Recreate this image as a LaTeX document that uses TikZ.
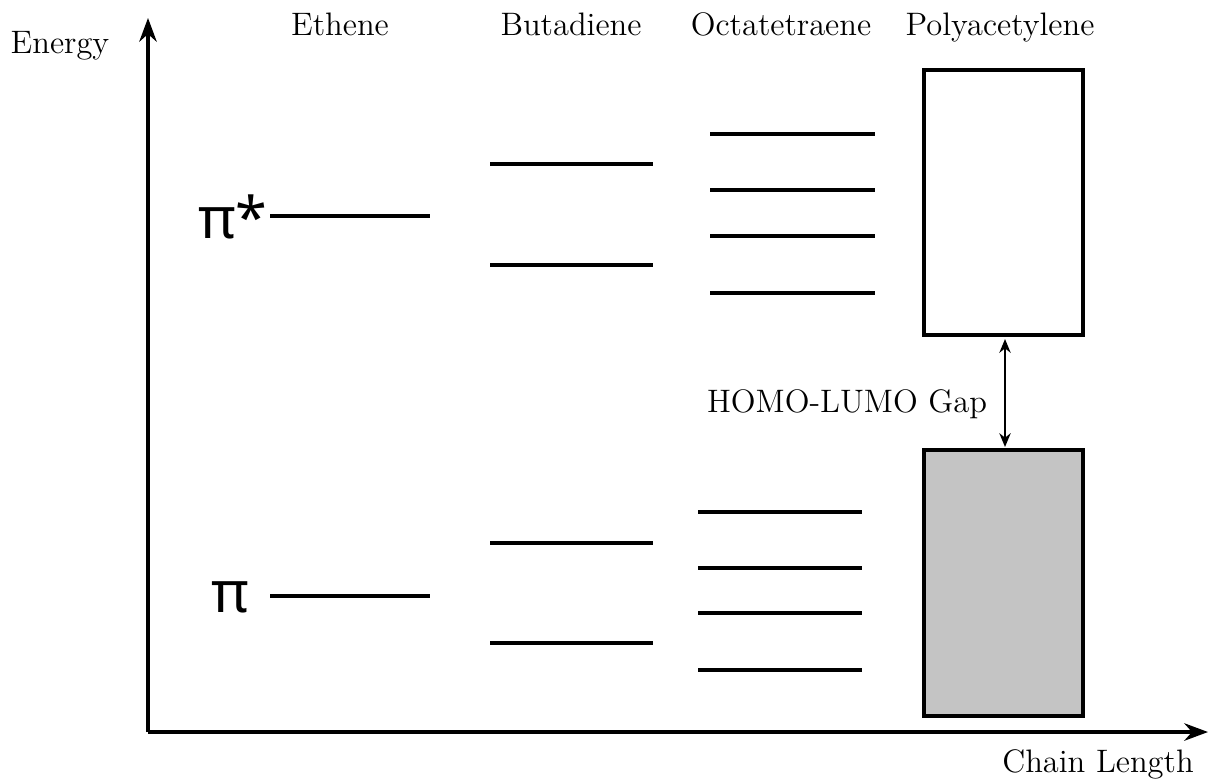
\documentclass[tikz,border=0pt]{standalone}
\usepackage{fontspec}
\newfontfamily\orbfont{Noto Sans}
\usetikzlibrary{arrows.meta}
\begin{document}
\begin{tikzpicture}[x=0.4pt,y=-0.4pt,
  every node/.style={font=\fontsize{13}{15}\selectfont, inner sep=0pt},
  level/.style={line width=1.3pt},
  band/.style={line width=1.3pt, draw=black},
  axis/.style={line width=1.3pt, -{Stealth[length=9.5pt,width=7pt]}},
  gap/.style={line width=1.1pt, {Stealth[length=5.5pt,width=4.5pt]}-{Stealth[length=5.5pt,width=4.5pt]}},
  orb/.style={font=\orbfont\fontsize{23}{26}\selectfont, inner sep=0pt}]
\useasboundingbox (0,0) rectangle (1211,783);

% axes
\coordinate (origin) at (148,732);
\coordinate (ytip) at (148,18);
\coordinate (xtip) at (1208,732);
\draw[axis] (origin) -- (ytip);
\draw[axis] (origin) -- (xtip);
\node[anchor=base] (elabel) at (60,53) {Energy};
\node[anchor=base] (clabel) at (1098,772) {Chain Length};

% column headings
\node[anchor=base] (h1) at (340,35) {Ethene};
\node[anchor=base] (h2) at (571,35) {Butadiene};
\node[anchor=base] (h3) at (781,35) {Octatetraene};
\node[anchor=base] (h4) at (1000,35) {Polyacetylene};

% ethene
\coordinate (e1a) at (270,216); \coordinate (e1b) at (430,216);
\coordinate (e0a) at (270,596); \coordinate (e0b) at (430,596);
\draw[level] (e1a) -- (e1b);
\draw[level] (e0a) -- (e0b);
\node[orb, anchor=base east] (pistar) at (268,238) {π*};
\node[orb, anchor=base east] (pi) at (250,612) {π};

% butadiene
\foreach \y [count=\i] in {164,265,543,643} {
  \coordinate (b\i a) at (490,\y); \coordinate (b\i b) at (653,\y);
  \draw[level] (b\i a) -- (b\i b);
}

% octatetraene
\foreach \y [count=\i] in {134,190,236,293} {
  \coordinate (o\i a) at (710,\y); \coordinate (o\i b) at (875,\y);
  \draw[level] (o\i a) -- (o\i b);
}
\foreach \y [count=\i] in {512,568,613,670} {
  \coordinate (u\i a) at (698,\y); \coordinate (u\i b) at (862,\y);
  \draw[level] (u\i a) -- (u\i b);
}

% polyacetylene bands
\coordinate (cb1) at (924,70); \coordinate (cb2) at (1083,335);
\coordinate (vb1) at (924,450); \coordinate (vb2) at (1083,716);
\draw[band, fill=white] (cb1) rectangle (cb2);
\draw[band, fill=black!23] (vb1) rectangle (vb2);
\coordinate (gtop) at (1005,339);
\coordinate (gbot) at (1005,447);
\draw[gap] (gtop) -- (gbot);
\node[anchor=base] (gaplabel) at (847,412) {HOMO-LUMO Gap};
\end{tikzpicture}
\end{document}
